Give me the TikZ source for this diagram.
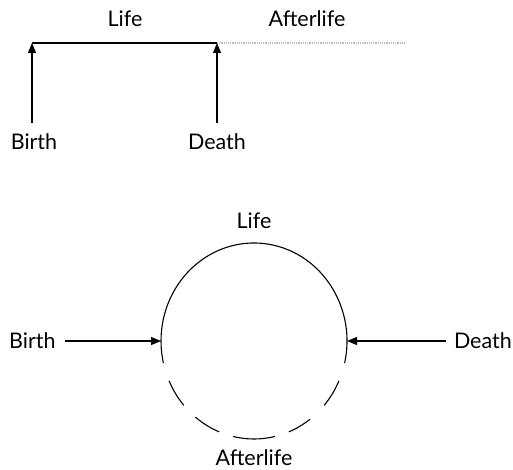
\documentclass[tikz,border=0pt]{standalone}
\usepackage{fontspec}
\setmainfont{Lato}
\usetikzlibrary{arrows.meta}
\begin{document}
\begin{tikzpicture}[x=1pt,y=-1pt,
  lbl/.style={font=\fontsize{21.5}{26}\selectfont, inner sep=0pt},
  arr/.style={line width=1.1pt, -{Triangle[length=10pt,width=8pt]}},
  ring/.style={line width=1.1pt}]
\useasboundingbox (0,0) rectangle (513,470);
% top diagram
\node[lbl] (life1) at (125,19) {Life};
\node[lbl] (after1) at (307,19) {Afterlife};
\node[lbl] (birth1) at (34,142) {Birth};
\node[lbl] (death1) at (217,142) {Death};
\coordinate (b1) at (32,43);
\coordinate (d1) at (217,43);
\coordinate (e1) at (405,43);
\draw[line width=1.4pt] (b1) -- (d1);
\draw[gray!55, densely dotted, line width=1.2pt] (d1) -- (e1);
\coordinate (b1s) at (32,123);
\coordinate (d1s) at (217,123);
\draw[arr] (b1s) -- (b1);
\draw[arr] (d1s) -- (d1);
% bottom diagram
\coordinate (c) at (254,341);
\node[lbl] (life2) at (254,221) {Life};
\node[lbl] (after2) at (254,458) {Afterlife};
\node[lbl, anchor=west] (birth2) at (9,341) {Birth};
\node[lbl, anchor=east] (death2) at (512,341) {Death};
\coordinate (bl) at (161,341);
\coordinate (dr) at (347,341);
\begin{scope}[y=1pt]
\draw[ring] ([shift={(-13:93 and 98)}]c) arc[start angle=-13, end angle=193, x radius=93, y radius=98];
\foreach \a/\b in {204/221, 231/248, 257/283, 292/307, 319/336}
  \draw[ring] ([shift={(\a:93 and 98)}]c) arc[start angle=\a, end angle=\b, x radius=93, y radius=98];
\end{scope}
\draw[arr] (birth2.east) ++(9,0) -- (bl);
\draw[arr] (death2.west) ++(-8,0) -- (dr);
\end{tikzpicture}
\end{document}
